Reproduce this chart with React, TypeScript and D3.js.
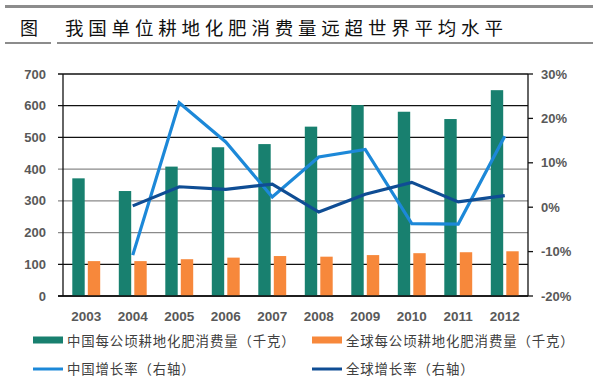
import React from 'react';
import * as d3 from 'd3';

const years = ['2003', '2004', '2005', '2006', '2007', '2008', '2009', '2010', '2011', '2012'];
// 中国 / 全球 每公顷耕地化肥消费量（千克）
const chinaUse = [371, 331, 408, 469, 479, 534, 602, 581, 558, 649];
const worldUse = [110, 110, 116, 121, 126, 124, 129, 135, 138, 141];
// growth rates in %, first year has none
const chinaGrowth = [null, -10.8, 23.5, 14.7, 2.3, 11.3, 13.0, -3.7, -3.8, 16.0];
const worldGrowth = [null, 0.3, 4.6, 4.0, 5.2, -1.1, 2.9, 5.6, 1.2, 2.6];
const leftTicks = [0, 100, 200, 300, 400, 500, 600, 700];
const rightTicks = [-20, -10, 0, 10, 20, 30];
const title = '我国单位耕地化肥消费量远超世界平均水平';
const legendLabels = ['中国每公顷耕地化肥消费量（千克）', '全球每公顷耕地化肥消费量（千克）', '中国增长率（右轴）', '全球增长率（右轴）'];

const W = 597, H = 386;
const left = 63, right = 528, top = 74, bottom = 296;
const GREEN = '#18806f', ORANGE = '#f7883b', LBLUE = '#1c88d8', DBLUE = '#0f4d94';
const numFont = '"Liberation Sans", Arial, sans-serif';
const cjkFont = '"Noto Sans CJK SC", sans-serif';

export default function App() {
  const x = d3.scaleBand().domain(years).range([left, right]);
  const x1 = d3.scaleBand().domain(['cn', 'world']).range([0, x.bandwidth()]).paddingInner(0.2).paddingOuter(0.6);
  const y = d3.scaleLinear().domain([0, 700]).range([bottom, top]);
  const y2 = d3.scaleLinear().domain([-20, 30]).range([bottom, top]);

  const line = d3.line<number | null>()
    .defined(d => d != null)
    .x((d, i) => x(years[i])! + x.bandwidth() / 2)
    .y(d => y2(d as number));

  const legendItems = [
    { label: legendLabels[0], color: GREEN, kind: 'bar', lx: 33, ly: 340 },
    { label: legendLabels[1], color: ORANGE, kind: 'bar', lx: 312, ly: 340 },
    { label: legendLabels[2], color: LBLUE, kind: 'line', lx: 33, ly: 368 },
    { label: legendLabels[3], color: DBLUE, kind: 'line', lx: 312, ly: 368 },
  ];

  return (
    <svg width={W} height={H} style={{ position: 'absolute', left: 0, top: 0, background: '#fff' }}>
      {/* title block */}
      <line x1={5} x2={593} y1={6.5} y2={6.5} stroke="#8c8c8c" strokeWidth={3} />
      <line x1={5} x2={51} y1={43} y2={43} stroke="#8c8c8c" strokeWidth={2} />
      <line x1={57} x2={593} y1={43} y2={43} stroke="#8c8c8c" strokeWidth={2} />
      <text x={20} y={27} dominantBaseline="central" fontFamily={cjkFont} fontSize={18} fill="#111">图</text>
      <text x={65} y={27} dominantBaseline="central" fontFamily={cjkFont} fontSize={18.5} letterSpacing={4.8} fill="#111">{title}</text>

      {/* gridlines + left axis */}
      {leftTicks.map(t => (
        <g key={t}>
          <line x1={left - 5} x2={right} y1={y(t)} y2={y(t)}
            stroke={t >= 200 && t <= 400 ? '#8a8a8a' : '#111'} strokeWidth={1.3} />
          <text x={46} y={y(t)} textAnchor="end" dominantBaseline="central"
            fontFamily={numFont} fontWeight="bold" fontSize={13} fill="#595959">{t}</text>
        </g>
      ))}
      <line x1={left} x2={left} y1={top} y2={bottom} stroke="#111" strokeWidth={1.3} />

      {/* right axis */}
      <line x1={right} x2={right} y1={top} y2={bottom} stroke="#111" strokeWidth={1.3} />
      {rightTicks.map(t => (
        <g key={t}>
          <line x1={right} x2={right + 5} y1={y2(t)} y2={y2(t)} stroke="#111" strokeWidth={1.3} />
          <text x={541} y={y2(t)} dominantBaseline="central"
            fontFamily={numFont} fontWeight="bold" fontSize={13} fill="#595959">{t}%</text>
        </g>
      ))}

      {/* bars */}
      {years.map((yr, i) => (
        <g key={yr}>
          <rect x={x(yr)! + x1('cn')!} width={x1.bandwidth()} y={y(chinaUse[i])} height={bottom - y(chinaUse[i])} fill={GREEN} />
          <rect x={x(yr)! + x1('world')!} width={x1.bandwidth()} y={y(worldUse[i])} height={bottom - y(worldUse[i])} fill={ORANGE} />
          <text x={x(yr)! + x.bandwidth() / 2} y={316} textAnchor="middle" dominantBaseline="central"
            fontFamily={numFont} fontWeight="bold" fontSize={13.5} fill="#595959">{yr}</text>
        </g>
      ))}
      <line x1={left - 5} x2={right} y1={bottom} y2={bottom} stroke="#111" strokeWidth={1.3} />

      {/* growth lines */}
      <path d={line(chinaGrowth) || ''} fill="none" stroke={LBLUE} strokeWidth={3.2} strokeLinejoin="miter" />
      <path d={line(worldGrowth) || ''} fill="none" stroke={DBLUE} strokeWidth={3.2} strokeLinejoin="miter" />

      {/* legend */}
      {legendItems.map(it => (
        <g key={it.label}>
          {it.kind === 'bar'
            ? <rect x={it.lx} y={it.ly - 3.5} width={30} height={7} fill={it.color} />
            : <line x1={it.lx} x2={it.lx + 30} y1={it.ly + 1} y2={it.ly + 1} stroke={it.color} strokeWidth={3} />}
          <text x={it.lx + 34} y={it.ly} dominantBaseline="central" fontFamily={cjkFont}
            fontSize={13.4} letterSpacing={0.9} fill="#404040">{it.label}</text>
        </g>
      ))}
    </svg>
  );
}
